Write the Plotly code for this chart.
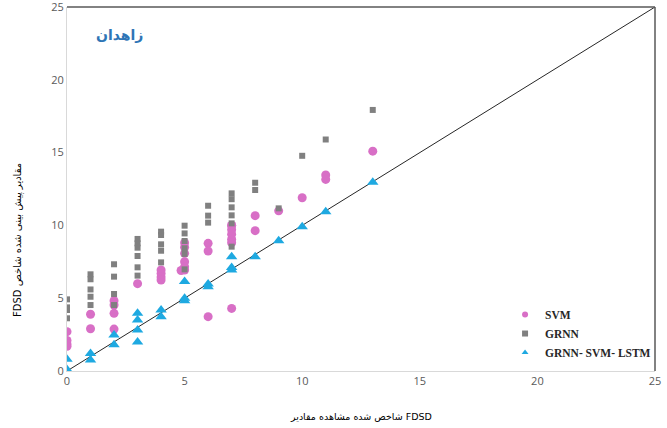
import plotly.graph_objects as go

# Observed FDSD (x) vs predicted (y) for each model
svm_x = [0, 0, 0, 0, 1, 1, 2, 2, 2, 2, 3, 4, 4, 4, 4, 4.85, 5, 5, 5, 5, 5, 5,
         6, 6, 6, 7, 7, 7, 7, 7, 7, 7, 8, 8, 9, 10, 11, 11, 13]
svm_y = [2.7, 2.1, 1.85, 1.7, 3.9, 2.9, 4.83, 4.53, 3.96, 2.88, 6.0, 6.94, 6.7, 6.45, 6.25, 6.9,
         8.81, 8.5, 8.08, 7.51, 7.16, 6.94, 8.77, 8.24, 3.73, 10.0, 9.7, 9.4, 9.05, 8.81, 10.0, 4.3,
         10.67, 9.64, 11.0, 11.9, 13.46, 13.16, 15.1]
grnn_x = [0, 0, 0, 0, 1, 1, 1, 1, 1, 2, 2, 2, 2, 3, 3, 3, 3, 3, 3, 4, 4, 4, 4, 4,
          5, 5, 5, 5, 5, 5, 6, 6, 6, 7, 7, 7, 7, 7, 7, 8, 8, 9, 10, 11, 13]
grnn_y = [4.92, 4.37, 4.19, 3.62, 6.64, 6.3, 5.6, 5.1, 4.53, 7.33, 6.48, 5.29, 4.53,
          9.07, 8.77, 8.47, 7.9, 7.12, 6.55, 9.57, 9.34, 8.7, 8.26, 7.46,
          9.98, 9.45, 8.93, 8.43, 8.04, 6.98, 11.35, 10.67, 10.19,
          12.2, 11.8, 11.24, 10.69, 10.14, 8.54, 12.93, 12.43, 11.17, 14.78, 15.9, 17.93]
hyb_x = [0, 0, 1, 1, 2, 2, 3, 3, 3, 3, 4, 4, 5, 5, 5, 6, 6, 7, 7, 7, 8, 9, 10, 11, 13]
hyb_y = [0.8, 0.1, 1.2, 0.75, 2.47, 1.8, 3.96, 3.5, 2.82, 2.0, 4.19, 3.73, 6.14, 5.0, 4.83,
         5.97, 5.79, 7.85, 7.1, 6.94, 7.85, 8.95, 9.91, 10.94, 12.96]
line_x = [0, 25]
line_y = [0, 25]
ticks = [0, 5, 10, 15, 20, 25]

names = ["SVM", "GRNN", "GRNN- SVM- LSTM"]
colors = ["#d86fc6", "#808080", "#1ea9e1"]
symbols = ["circle", "square", "triangle-up"]
sizes = [9, 6, 10]

title_text = "زاهدان"
# x title: words appear left-to-right in the reference ("مقادیر" at the far left, FDSD at the right)
x_title = "شاخص شده مشاهده مقادیر FDSD"
y_title = "\u202bمقادیر پیش بینی شده شاخص FDSD\u202c"

fig = go.Figure()
fig.add_trace(go.Scatter(x=line_x, y=line_y, mode="lines",
                         line=dict(color="#262626", width=1), showlegend=False, hoverinfo="skip"))
for (xs, ys), n, c, s, sz in zip([(svm_x, svm_y), (grnn_x, grnn_y), (hyb_x, hyb_y)],
                                names, colors, symbols, sizes):
    fig.add_trace(go.Scatter(x=xs, y=ys, mode="markers", name=n, showlegend=False,
                             marker=dict(symbol=s, size=sz, color=c)))
# legend entries with small markers
for n, c, s in zip(names, colors, symbols):
    fig.add_trace(go.Scatter(x=[None], y=[None], mode="markers", name=n,
                             marker=dict(symbol=s, size=6, color=c)))

tickfont = dict(family="Open Sans, DejaVu Sans, sans-serif", size=11, color="#595959")
fig.update_layout(
    width=667, height=428,
    margin=dict(l=67, r=12, t=7, b=57),
    paper_bgcolor="white", plot_bgcolor="white",
    xaxis=dict(range=[0, 25], tickvals=ticks, showgrid=False, zeroline=False,
               showline=True, linecolor="#d9d9d9", linewidth=1, ticks="",
               tickfont=tickfont, automargin=False, ticklabeloverflow="allow"),
    yaxis=dict(range=[0, 25], tickvals=ticks, showgrid=False, zeroline=False,
               showline=True, linecolor="#d9d9d9", linewidth=1, ticks="",
               tickfont=tickfont, automargin=False, ticklabeloverflow="allow"),
    legend=dict(x=0.745, y=0.195, xanchor="left", yanchor="top",
                bgcolor="rgba(0,0,0,0)",
                font=dict(family="Liberation Serif, Times New Roman, serif", size=11.5,
                          color="#262626", weight="bold"),
                itemsizing="trace", tracegroupgap=0),
    showlegend=True,
)
fig.add_shape(type="line", xref="paper", yref="paper", x0=0, x1=1, y0=1, y1=1,
              line=dict(color="#595959", width=1.5))
fig.add_shape(type="line", xref="paper", yref="paper", x0=1, x1=1, y0=0, y1=1,
              line=dict(color="#595959", width=1.5))
fig.add_annotation(x=0.09, y=0.923, xref="paper", yref="paper", xanchor="center", yanchor="middle",
                   text="<b>" + title_text + "</b>", showarrow=False,
                   font=dict(family="DejaVu Sans, sans-serif", size=14, color="#2e75b6"))
fig.add_annotation(x=0.5, y=-0.126, xref="paper", yref="paper", xanchor="center", yanchor="middle",
                   text=x_title, showarrow=False,
                   font=dict(family="DejaVu Sans, sans-serif", size=9.5, color="#000000"))
fig.add_annotation(x=0, y=0.36, xref="paper", yref="paper", xanchor="center", yanchor="middle",
                   xshift=-49, textangle=-90, text=y_title, showarrow=False,
                   font=dict(family="DejaVu Sans, sans-serif", size=10, color="#000000"))

fig.write_html("out.html", post_script="document.body.style.margin='0';",
               config={"displayModeBar": False})
